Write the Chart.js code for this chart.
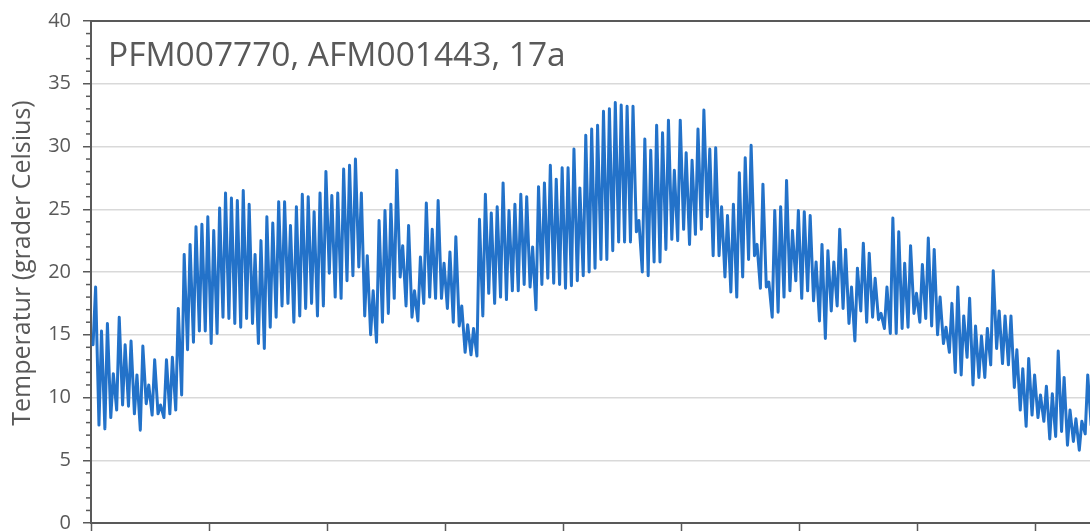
<!DOCTYPE html>
<html>
<head>
<meta charset="utf-8">
<script src="https://cdn.jsdelivr.net/npm/chart.js@4.4.1/dist/chart.umd.min.js"></script>
<style>
  html, body { margin: 0; padding: 0; background: #ffffff; overflow: hidden; }
  #wrap { position: relative; width: 1090px; height: 531px; overflow: hidden; }
  canvas { display: block; position: absolute; left: 0; top: -3px; }
</style>
</head>
<body>
<div id="wrap"><canvas id="chart" width="1154" height="560"></canvas></div>
<script>
// Logger series: daily minimum and maximum temperature (°C), one entry per day
const chartTitle = 'PFM007770, AFM001443, 17a';
const yAxisTitle = 'Temperatur (grader Celsius)';
const yRange = [0, 40];
const yStep = 5;
const dayRange = [0, 180];
const dayStep = 20;

// time of day (fraction) at which the daily low and high occur
const lowTimeOfDay = 0.35;
const highTimeOfDay = 0.78;

const dailyMin = [
  14.2, 7.8, 7.5, 8.4, 9.0, 9.4, 9.3, 8.7, 7.4, 9.5,
  8.6, 8.7, 8.4, 8.7, 9.0, 10.2, 13.8, 14.4, 15.3, 15.3,
  14.3, 15.1, 16.4, 16.3, 15.9, 15.6, 16.3, 15.9, 14.3, 13.9,
  15.6, 16.4, 17.3, 17.5, 16.0, 16.5, 17.1, 17.5, 16.5, 17.3,
  19.9, 18.0, 17.9, 19.3, 19.7, 20.4, 16.5, 15.0, 14.4, 16.0,
  16.7, 17.9, 19.6, 17.3, 16.4, 16.1, 17.5, 18.0, 17.9, 17.9,
  17.1, 16.0, 15.7, 13.6, 13.4, 13.3, 16.5, 18.3, 17.5, 18.0,
  17.8, 18.5, 18.5, 19.0, 18.8, 17.0, 19.0, 19.5, 19.1, 19.0,
  18.7, 18.9, 19.3, 19.7, 20.0, 20.3, 21.0, 21.0, 21.7, 22.4,
  22.4, 22.4, 23.2, 20.0, 19.7, 20.8, 20.8, 21.8, 22.6, 22.5,
  23.4, 22.2, 23.0, 23.4, 24.4, 21.3, 21.3, 19.6, 18.4, 18.0,
  19.6, 21.0, 21.3, 18.7, 18.8, 16.4, 16.8, 18.0, 18.5, 19.3,
  17.9, 18.5, 17.7, 16.1, 14.7, 16.9, 17.3, 17.1, 15.9, 14.5,
  16.9, 16.0, 16.4, 16.2, 15.5, 15.1, 15.1, 15.5, 15.6, 16.7,
  16.0, 16.3, 15.7, 15.0, 14.3, 13.6, 12.0, 11.8, 13.2, 11.0,
  11.6, 11.6, 12.6, 13.9, 12.7, 12.6, 10.8, 9.0, 7.7, 8.6,
  8.4, 8.1, 6.7, 6.9, 7.3, 6.2, 6.5, 5.8, 7.1, 7.8
];

const dailyMax = [
  18.8, 15.3, 15.9, 11.9, 16.4, 14.2, 14.5, 11.8, 14.1, 11.0,
  13.0, 9.4, 13.0, 13.2, 17.1, 21.4, 22.2, 23.6, 23.8, 24.4,
  23.3, 25.1, 26.3, 25.9, 25.7, 26.5, 25.4, 21.4, 22.5, 24.4,
  23.9, 25.6, 25.6, 23.7, 25.2, 26.2, 26.0, 24.8, 26.3, 28.0,
  26.1, 26.3, 28.2, 28.5, 29.0, 26.3, 21.3, 18.5, 24.1, 24.9,
  25.4, 28.1, 22.1, 23.7, 18.5, 21.2, 25.5, 23.4, 25.7, 20.7,
  21.6, 22.8, 17.3, 15.8, 15.5, 24.2, 26.2, 24.7, 25.2, 27.1,
  24.9, 25.4, 26.2, 26.0, 22.0, 26.8, 27.1, 28.5, 27.4, 28.3,
  28.3, 29.8, 26.7, 30.9, 31.4, 31.7, 32.8, 33.0, 33.5, 33.3,
  33.2, 33.2, 24.1, 30.6, 29.7, 31.7, 31.1, 32.1, 28.1, 32.1,
  29.5, 28.9, 31.4, 32.9, 29.8, 29.9, 25.2, 24.5, 25.4, 27.9,
  29.1, 30.1, 22.2, 27.0, 19.2, 24.9, 25.2, 27.3, 23.3, 24.9,
  24.8, 24.5, 20.8, 22.2, 21.7, 20.8, 23.4, 21.8, 18.8, 20.3,
  22.3, 21.5, 19.5, 16.7, 18.8, 24.3, 23.2, 20.7, 22.1, 18.3,
  20.6, 22.7, 21.8, 18.0, 15.6, 17.5, 18.8, 16.5, 17.9, 15.7,
  14.9, 15.5, 20.1, 16.9, 16.5, 16.5, 13.8, 12.3, 13.1, 11.8,
  10.2, 10.9, 10.3, 13.7, 11.6, 9.0, 8.3, 8.1, 11.8, 9.6
];

// Interleave lows and highs into one time-ordered series
const series = [];
dailyMin.forEach((lo, day) => {
  series.push({ x: day + lowTimeOfDay, y: lo });
  series.push({ x: day + highTimeOfDay, y: dailyMax[day] });
});

const textColor = '#595959';
const axisColor = '#595959';
const gridColor = '#d9d9d9';

Chart.defaults.font.family = '"Open Sans", "Liberation Sans", sans-serif';
Chart.defaults.color = textColor;

// minor ticks on the value axis, top frame line, axis title and in-plot caption
const framePlugin = {
  id: 'frame',
  beforeDatasetsDraw(chart) {
    const { ctx, chartArea: a, scales: { y } } = chart;
    ctx.save();
    ctx.strokeStyle = axisColor;
    ctx.lineWidth = 1.5;
    for (let v = y.min; v <= y.max; v += 1) {
      if (v % yStep === 0) continue;
      const py = y.getPixelForValue(v);
      ctx.beginPath();
      ctx.moveTo(a.left - 5, py);
      ctx.lineTo(a.left, py);
      ctx.stroke();
    }
    ctx.lineWidth = 2;
    ctx.beginPath();
    ctx.moveTo(a.left - 1, a.top);
    ctx.lineTo(a.right, a.top);
    ctx.stroke();
    ctx.restore();
  },
  afterDraw(chart) {
    const { ctx, chartArea: a } = chart;
    ctx.save();
    ctx.fillStyle = textColor;
    ctx.font = '33.5px "Open Sans", sans-serif';
    ctx.textAlign = 'left';
    ctx.textBaseline = 'middle';
    ctx.fillText(chartTitle, a.left + 17, a.top + 35);

    ctx.font = '25px "Open Sans", sans-serif';
    ctx.textAlign = 'center';
    ctx.translate(a.left - 68, (a.top + a.bottom) / 2 - 9);
    ctx.rotate(-Math.PI / 2);
    ctx.fillText(yAxisTitle, 0, 0);
    ctx.restore();
  }
};

new Chart(document.getElementById('chart'), {
  type: 'line',
  data: {
    datasets: [{
      data: series,
      borderColor: '#2372c9',
      borderWidth: 3,
      pointRadius: 0,
      tension: 0,
      borderJoinStyle: 'round',
      borderCapStyle: 'round'
    }]
  },
  options: {
    responsive: false,
    animation: false,
    devicePixelRatio: 1,
    layout: { padding: { top: 17, right: 0, bottom: 0, left: 0 } },
    plugins: { legend: { display: false }, tooltip: { enabled: false } },
    scales: {
      x: {
        type: 'linear',
        min: dayRange[0],
        max: dayRange[1],
        ticks: { stepSize: dayStep, display: false },
        grid: {
          drawOnChartArea: false,
          drawTicks: true,
          tickLength: 8,
          tickColor: axisColor,
          tickWidth: 1.5
        },
        border: { color: axisColor, width: 2 },
        afterFit(scale) { scale.height = 34; }
      },
      y: {
        min: yRange[0],
        max: yRange[1],
        ticks: {
          stepSize: yStep,
          padding: 12,
          color: textColor,
          font: { size: 20 }
        },
        grid: {
          color: (c) => (c.tick && (c.tick.value === yRange[0] || c.tick.value === yRange[1])) ? 'rgba(0,0,0,0)' : gridColor,
          lineWidth: 1.5,
          tickLength: 8,
          tickColor: axisColor,
          tickWidth: 1.5
        },
        border: { color: axisColor, width: 2 },
        afterFit(scale) { scale.width = 91; }
      }
    }
  },
  plugins: [framePlugin]
});
</script>
</body>
</html>
